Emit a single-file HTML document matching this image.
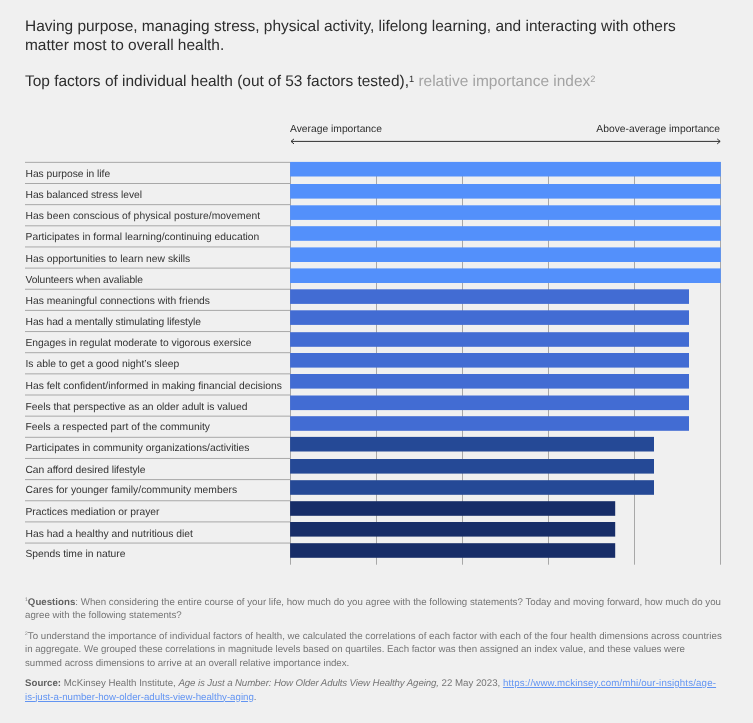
<!DOCTYPE html>
<html><head><meta charset="utf-8"><title>Top factors of individual health</title>
<style>
html,body{margin:0;padding:0}
body{text-rendering:geometricPrecision;width:753px;height:723px;background:#f0f0f0;position:relative;overflow:hidden;font-family:"Liberation Sans",Arial,sans-serif;color:#333}
.t{position:absolute;left:25px;white-space:nowrap;font-size:15.46px;line-height:18.8px;color:#2d2d2d}
.ax{position:absolute;font-size:10.3px;line-height:12px;color:#2d2d2d;white-space:nowrap}
.lb{position:absolute;left:25.5px;font-size:10.3px;line-height:14px;white-space:nowrap;color:#333}
.fn{position:absolute;left:25px;font-size:9.7px;line-height:13.5px;color:#757575;white-space:nowrap}
.fn b{color:#626262}
.fn a{color:#6294f2;text-decoration:underline}
sup{font-size:60%;line-height:0;vertical-align:baseline;position:relative;top:-0.45em}
.fn sup{font-size:52%;top:-0.7em}
.g{color:#a3a3a3}
svg{position:absolute;left:0;top:0}
</style></head><body>
<div class="t" style="top:17.9px">Having purpose, managing stress, physical activity, lifelong learning, and interacting with others<br>matter most to overall health.</div>
<div class="t" style="top:72.7px">Top factors of individual health (out of 53 factors tested),<sup>1</sup> <span class="g">relative importance index<sup>2</sup></span></div>
<div class="ax" style="left:290px;top:124.1px">Average importance</div>
<div class="ax" style="right:33px;top:124.1px">Above-average importance</div>
<svg width="753" height="723" viewBox="0 0 753 723">
<g fill="none" stroke="#303030" stroke-width="1"><path d="M291 141.4H720"/><path d="M294 138.9L291 141.4L294 143.9"/><path d="M717.2 138.9L720.2 141.4L717.2 143.9"/></g>
<rect x="290" y="162" width="1" height="402.7" fill="#a8a8a8"/><rect x="376" y="162" width="1" height="402.7" fill="#a8a8a8"/><rect x="462" y="162" width="1" height="402.7" fill="#a8a8a8"/><rect x="548" y="162" width="1" height="402.7" fill="#a8a8a8"/><rect x="634" y="162" width="1" height="402.7" fill="#a8a8a8"/><rect x="720" y="162" width="1" height="402.7" fill="#a8a8a8"/><rect x="25" y="161.85" width="265" height="1" fill="#a8a8a8"/><rect x="290.1" y="161.90" width="430.7" height="14.6" fill="#5390fb"/><rect x="25" y="183.00" width="265" height="1" fill="#a8a8a8"/><rect x="290.1" y="184.00" width="430.7" height="14.6" fill="#5390fb"/><rect x="25" y="204.15" width="265" height="1" fill="#a8a8a8"/><rect x="290.1" y="205.30" width="430.7" height="14.6" fill="#5390fb"/><rect x="25" y="225.30" width="265" height="1" fill="#a8a8a8"/><rect x="290.1" y="226.20" width="430.7" height="14.6" fill="#5390fb"/><rect x="25" y="246.45" width="265" height="1" fill="#a8a8a8"/><rect x="290.1" y="247.40" width="430.7" height="14.6" fill="#5390fb"/><rect x="25" y="267.60" width="265" height="1" fill="#a8a8a8"/><rect x="290.1" y="268.40" width="430.7" height="14.6" fill="#5390fb"/><rect x="25" y="288.75" width="265" height="1" fill="#a8a8a8"/><rect x="290.1" y="289.30" width="398.9" height="14.6" fill="#426cd3"/><rect x="25" y="309.90" width="265" height="1" fill="#a8a8a8"/><rect x="290.1" y="310.30" width="398.9" height="14.6" fill="#426cd3"/><rect x="25" y="331.05" width="265" height="1" fill="#a8a8a8"/><rect x="290.1" y="332.20" width="398.9" height="14.6" fill="#426cd3"/><rect x="25" y="352.20" width="265" height="1" fill="#a8a8a8"/><rect x="290.1" y="353.00" width="398.9" height="14.6" fill="#426cd3"/><rect x="25" y="373.35" width="265" height="1" fill="#a8a8a8"/><rect x="290.1" y="374.00" width="398.9" height="14.6" fill="#426cd3"/><rect x="25" y="394.50" width="265" height="1" fill="#a8a8a8"/><rect x="290.1" y="395.50" width="398.9" height="14.6" fill="#426cd3"/><rect x="25" y="415.65" width="265" height="1" fill="#a8a8a8"/><rect x="290.1" y="416.20" width="398.9" height="14.6" fill="#426cd3"/><rect x="25" y="436.80" width="265" height="1" fill="#a8a8a8"/><rect x="290.1" y="436.90" width="363.9" height="14.6" fill="#254996"/><rect x="25" y="457.95" width="265" height="1" fill="#a8a8a8"/><rect x="290.1" y="459.00" width="363.9" height="14.6" fill="#254996"/><rect x="25" y="479.10" width="265" height="1" fill="#a8a8a8"/><rect x="290.1" y="480.20" width="363.9" height="14.6" fill="#254996"/><rect x="25" y="500.25" width="265" height="1" fill="#a8a8a8"/><rect x="290.1" y="501.20" width="325.1" height="14.6" fill="#172d68"/><rect x="25" y="521.40" width="265" height="1" fill="#a8a8a8"/><rect x="290.1" y="522.00" width="325.1" height="14.6" fill="#172d68"/><rect x="25" y="542.55" width="265" height="1" fill="#a8a8a8"/><rect x="290.1" y="543.20" width="325.1" height="14.6" fill="#172d68"/>
</svg>
<div class="lb" style="top:167.70px;letter-spacing:-0.037px">Has purpose in life</div><div class="lb" style="top:188.88px;letter-spacing:-0.032px">Has balanced stress level</div><div class="lb" style="top:210.06px;letter-spacing:0.049px">Has been conscious of physical posture/movement</div><div class="lb" style="top:231.24px;letter-spacing:0.017px">Participates in formal learning/continuing education</div><div class="lb" style="top:253.42px;letter-spacing:0.014px">Has opportunities to learn new skills</div><div class="lb" style="top:273.60px;letter-spacing:-0.088px">Volunteers when avaliable</div><div class="lb" style="top:294.78px;letter-spacing:0.005px">Has meaningful connections with friends</div><div class="lb" style="top:315.96px;letter-spacing:-0.050px">Has had a mentally stimulating lifestyle</div><div class="lb" style="top:336.74px;letter-spacing:-0.017px">Engages in regulat moderate to vigorous exersice</div><div class="lb" style="top:358.32px;letter-spacing:0.011px">Is able to get a good night’s sleep</div><div class="lb" style="top:379.50px;letter-spacing:0.011px">Has felt confident/informed in making financial decisions</div><div class="lb" style="top:400.68px;letter-spacing:-0.026px">Feels that perspective as an older adult is valued</div><div class="lb" style="top:421.46px;letter-spacing:0.021px">Feels a respected part of the community</div><div class="lb" style="top:442.04px;letter-spacing:0.004px">Participates in community organizations/activities</div><div class="lb" style="top:463.67px;letter-spacing:-0.064px">Can afford desired lifestyle</div><div class="lb" style="top:484.00px;letter-spacing:0.024px">Cares for younger family/community members</div><div class="lb" style="top:505.88px;letter-spacing:0.003px">Practices mediation or prayer</div><div class="lb" style="top:527.76px;letter-spacing:0.008px">Has had a healthy and nutritious diet</div><div class="lb" style="top:547.54px;letter-spacing:-0.010px">Spends time in nature</div>
<div class="fn" style="top:595.5px"><span style="letter-spacing:0.016px"><sup>1</sup><b>Questions</b>: When considering the entire course of your life, how much do you agree with the following statements? Today and moving forward, how much do you</span><br>agree with the following statements?</div>
<div class="fn" style="top:629.7px"><span style="letter-spacing:0.012px"><sup>2</sup>To understand the importance of individual factors of health, we calculated the correlations of each factor with each of the four health dimensions across countries</span><br><span style="letter-spacing:-0.022px">in aggregate. We grouped these correlations in magnitude levels based on quartiles. Each factor was then assigned an index value, and these values were</span><br><span style="letter-spacing:-0.028px">summed across dimensions to arrive at an overall relative importance index.</span></div>
<div class="fn" style="top:677px"><b>Source:</b> McKinsey Health Institute, <i style="letter-spacing:-0.117px">Age is Just a Number: How Older Adults View Healthy Ageing,</i> 22 May 2023, <a style="letter-spacing:0.155px">https://www.mckinsey.com/mhi/our-insights/age-</a><br><a>is-just-a-number-how-older-adults-view-healthy-aging</a>.</div>
</body></html>
